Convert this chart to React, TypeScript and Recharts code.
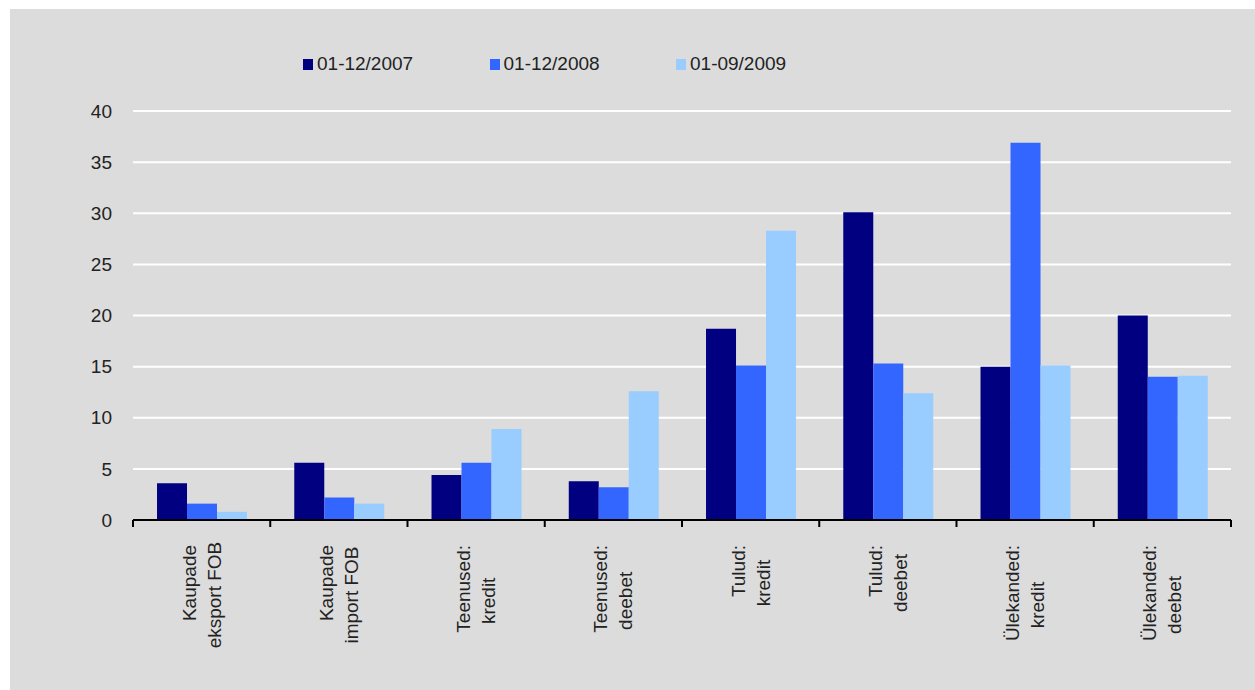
import { BarChart, Bar, XAxis, YAxis, CartesianGrid } from 'recharts';

const categories = [
    'Kaupade\neksport FOB',
    'Kaupade\nimport FOB',
    'Teenused:\nkredit',
    'Teenused:\ndeebet',
    'Tulud:\nkredit',
    'Tulud:\ndeebet',
    'Ülekanded:\nkredit',
    'Ülekanded:\ndeebet',
];
const values2007 = [3.6, 5.6, 4.4, 3.8, 18.7, 30.1, 15.0, 20.0];
const values2008 = [1.6, 2.2, 5.6, 3.2, 15.1, 15.3, 36.9, 14.0];
const values2009 = [0.8, 1.6, 8.9, 12.6, 28.3, 12.4, 15.1, 14.1];
const seriesNames = ['01-12/2007', '01-12/2008', '01-09/2009'];
const seriesColors = ['#000080', '#3366ff', '#99ccff'];
const yTicks = [0, 5, 10, 15, 20, 25, 30, 35, 40];

const data = categories.map((name, i) => ({
    name,
    s0: values2007[i],
    s1: values2008[i],
    s2: values2009[i],
}));

const W = 1245;
const H = 681;
const MARGIN = { top: 102, right: 24, left: 63, bottom: 0 };
const Y_AXIS_W = 60;
const X_AXIS_H = 170;
const PLOT_W = W - MARGIN.left - MARGIN.right - Y_AXIS_W;
const AXIS_Y = H - MARGIN.bottom - X_AXIS_H;
const BAND = PLOT_W / categories.length;
const FONT = '"Liberation Sans", Arial, sans-serif';
const FONT_SIZE = 19;
const TEXT_COLOR = '#222';

let ctx: CanvasRenderingContext2D | null = null;
function textWidth(s: string) {
    if (!ctx) {
        ctx = document.createElement('canvas').getContext('2d');
        if (ctx) ctx.font = `${FONT_SIZE}px "Liberation Sans"`;
    }
    return ctx ? ctx.measureText(s).width : s.length * FONT_SIZE * 0.55;
}

function CategoryTick(props: any) {
    const { x, payload, index } = props;
    const [l1, l2] = String(payload.value).split('\n');
    const w1 = textWidth(l1);
    const top = AXIS_Y + 25;
    const left = x - BAND / 2;
    return (
        <g>
            <line x1={left} x2={left} y1={AXIS_Y} y2={AXIS_Y + 7} stroke="#000" strokeWidth={2} />
            {index === categories.length - 1 && (
                <line x1={x + BAND / 2} x2={x + BAND / 2} y1={AXIS_Y} y2={AXIS_Y + 7} stroke="#000" strokeWidth={2} />
            )}
            <g transform={`translate(${x}, ${top}) rotate(-90)`}>
                <text x={-w1 / 2} y={-6} textAnchor="middle" fill={TEXT_COLOR} fontSize={FONT_SIZE} fontFamily={FONT}>
                    {l1}
                </text>
                <text x={-w1 / 2 - 12} y={19} textAnchor="middle" fill={TEXT_COLOR} fontSize={FONT_SIZE} fontFamily={FONT}>
                    {l2}
                </text>
            </g>
        </g>
    );
}

export default function App() {
    return (
        <div style={{ position: 'relative', marginLeft: 10, marginTop: 9, width: W, height: H, background: '#dcdcdc' }}>
            <style>{'body { margin: 0; overflow: hidden; background: #fff; }'}</style>

            {/* Legend */}
            <div style={{ position: 'absolute', left: 293, top: 45, display: 'flex', fontFamily: FONT, fontSize: FONT_SIZE, color: TEXT_COLOR }}>
                {seriesNames.map((name, i) => (
                    <div key={name} style={{ width: 186.5, display: 'flex', alignItems: 'center', height: 20 }}>
                        <span style={{ display: 'inline-block', width: 10, height: 11, background: seriesColors[i], marginRight: 4 }} />
                        <span>{name}</span>
                    </div>
                ))}
            </div>

            <BarChart width={W} height={H} data={data} margin={MARGIN} barGap={0} barCategoryGap="17.5%">
                <CartesianGrid vertical={false} stroke="#ffffff" strokeWidth={2} />
                <XAxis
                    dataKey="name"
                    interval={0}
                    height={X_AXIS_H}
                    axisLine={{ stroke: '#000', strokeWidth: 2 }}
                    tickLine={false}
                    tick={<CategoryTick />}
                />
                <YAxis
                    width={Y_AXIS_W}
                    domain={[0, 40]}
                    ticks={yTicks}
                    axisLine={false}
                    tickLine={false}
                    tickSize={10}
                    tickMargin={11}
                    tick={{ fill: TEXT_COLOR, fontSize: FONT_SIZE, fontFamily: FONT }}
                />
                {seriesNames.map((name, i) => (
                    <Bar key={name} dataKey={`s${i}`} name={name} fill={seriesColors[i]} isAnimationActive={false} />
                ))}
            </BarChart>
        </div>
    );
}
